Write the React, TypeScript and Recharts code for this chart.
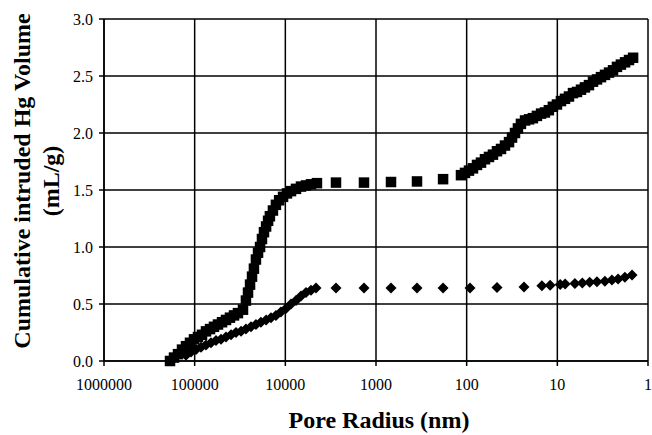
import React from "react";
import { ScatterChart, Scatter, XAxis, YAxis, CartesianGrid } from "recharts";

// pore radius (nm) and cumulative intruded volume (mL/g)
const squareRadius = [
  187000, 169000, 152700, 137900, 124600, 112600, 101700, 91900, 83000, 75000,
  67700, 61200, 55300, 49900, 45100, 40800, 36800, 33300, 29300, 27200, 25800,
  24500, 23300, 22200, 21100, 20000, 19000, 18100, 17200, 16300, 15500, 14800,
  13700, 12700, 11700, 10600, 9590, 8660, 7630, 6720, 5920, 5210, 4480,
  2762, 1357, 683, 353, 182,
  115.5, 104.3, 94.3, 85.2, 76.9, 69.5, 62.8, 56.7, 51.3, 46.3, 41.8, 37.8,
  34.1, 31.6, 29.3, 27.2, 25.2, 22.7, 20.5, 18.6, 16.8, 15.1, 13.7, 12.4, 11.2,
  10.1, 9.12, 8.23, 7.44, 6.72, 6.07, 5.48, 4.96, 4.48, 4.04, 3.65, 3.3, 2.98,
  2.69, 2.43, 2.2, 1.99, 1.79, 1.62, 1.46,
];
const squareVolume = [
  0.0, 0.03, 0.06, 0.1, 0.13, 0.16, 0.19, 0.21, 0.23, 0.26, 0.28, 0.3, 0.32,
  0.34, 0.36, 0.38, 0.4, 0.42, 0.45, 0.53, 0.6, 0.67, 0.74, 0.81, 0.89, 0.95,
  1.0, 1.07, 1.13, 1.18, 1.23, 1.27, 1.32, 1.37, 1.41, 1.44, 1.47, 1.49, 1.51,
  1.53, 1.54, 1.55, 1.56,
  1.565, 1.565, 1.57, 1.575, 1.595,
  1.63, 1.65, 1.67, 1.69, 1.72, 1.74, 1.77, 1.79, 1.81, 1.84, 1.86, 1.89, 1.92,
  1.96, 2.0, 2.04, 2.08, 2.11, 2.12, 2.13, 2.15, 2.17, 2.18, 2.2, 2.23, 2.25,
  2.28, 2.3, 2.32, 2.35, 2.36, 2.38, 2.4, 2.42, 2.45, 2.47, 2.49, 2.51, 2.53,
  2.55, 2.58, 2.6, 2.62, 2.64, 2.66,
];

const diamondRadius = [
  124600, 109800, 96700, 85200, 75000, 66000, 58200, 51200, 45100, 39700,
  35000, 30800, 27200, 23900, 21100, 18600, 16300, 14400, 12700, 11200, 9830,
  8660, 7630, 6720, 5920, 5210, 4590,
  2762, 1357, 683, 353, 182, 91.9, 46.3, 23.3,
  14.8, 12.0, 9.3, 8.2, 6.4, 5.3, 4.4, 3.66, 2.99, 2.5, 2.14, 1.8, 1.5,
];
const diamondVolume = [
  0.05, 0.08, 0.1, 0.12, 0.14, 0.16, 0.18, 0.19, 0.21, 0.23, 0.25, 0.26, 0.28,
  0.3, 0.32, 0.34, 0.36, 0.38, 0.4, 0.43, 0.46, 0.5, 0.53, 0.57, 0.6, 0.62,
  0.64,
  0.64, 0.64, 0.64, 0.64, 0.64, 0.64, 0.645, 0.65,
  0.66, 0.665, 0.67, 0.675, 0.68, 0.685, 0.69, 0.695, 0.7, 0.71, 0.72, 0.735,
  0.755,
];

const xTicks = [1000000, 100000, 10000, 1000, 100, 10, 1];
const yTicks = [0, 0.5, 1, 1.5, 2, 2.5, 3];

const squares = squareRadius.map((x, i) => ({ x, y: squareVolume[i] }));
const diamonds = diamondRadius.map((x, i) => ({ x, y: diamondVolume[i] }));

const serif = "'Liberation Serif', 'DejaVu Serif', serif";

const SquareShape = (props: any) => {
  const { cx, cy } = props;
  const h = 5.25;
  return <rect x={cx - h} y={cy - h} width={2 * h} height={2 * h} fill="#000" />;
};

const DiamondShape = (props: any) => {
  const { cx, cy } = props;
  const r = 5.5;
  return (
    <polygon
      points={`${cx},${cy - r} ${cx + r},${cy} ${cx},${cy + r} ${cx - r},${cy}`}
      fill="#000"
    />
  );
};

const titleStyle: React.CSSProperties = {
  fontFamily: serif,
  fontSize: 24,
  fontWeight: "bold",
  fill: "#000",
};

export default function App() {
  return (
    <div style={{ position: "absolute", left: 0, top: 0, width: 652, height: 435, background: "#fff" }}>
      <ScatterChart
        width={652}
        height={435}
        margin={{ top: 19, right: 4, bottom: 0, left: 0 }}
      >
        <CartesianGrid stroke="#000" strokeWidth={1.5} />
        <XAxis
          dataKey="x"
          type="number"
          scale="log"
          domain={[1, 1000000]}
          ticks={xTicks}
          reversed
          allowDataOverflow
          height={74}
          tickSize={5}
          tickMargin={13}
          interval={0}
          axisLine={{ stroke: "#000", strokeWidth: 1.5 }}
          tickLine={{ stroke: "#000", strokeWidth: 1.5 }}
          tick={{ fill: "#000", fontSize: 16, fontFamily: serif }}
        />
        <YAxis
          dataKey="y"
          type="number"
          domain={[0, 3]}
          ticks={yTicks}
          width={104}
          tickSize={5}
          tickMargin={6}
          interval={0}
          tickFormatter={(v: number) => v.toFixed(1)}
          axisLine={{ stroke: "#000", strokeWidth: 1.5 }}
          tickLine={{ stroke: "#000", strokeWidth: 1.5 }}
          tick={{ fill: "#000", fontSize: 16, fontFamily: serif }}
        />
        <Scatter data={squares} shape={SquareShape} isAnimationActive={false} />
        <Scatter data={diamonds} shape={DiamondShape} isAnimationActive={false} />
      </ScatterChart>
      <svg
        width={652}
        height={435}
        style={{ position: "absolute", left: 0, top: 0, pointerEvents: "none" }}
      >
        <text x={379} y={428} textAnchor="middle" style={titleStyle}>
          Pore Radius (nm)
        </text>
        <text x={30} y={181} textAnchor="middle" transform="rotate(-90, 30, 181)" style={titleStyle}>
          Cumulative intruded Hg Volume
        </text>
        <text x={59} y={181} textAnchor="middle" transform="rotate(-90, 59, 181)" style={titleStyle}>
          (mL/g)
        </text>
      </svg>
    </div>
  );
}
